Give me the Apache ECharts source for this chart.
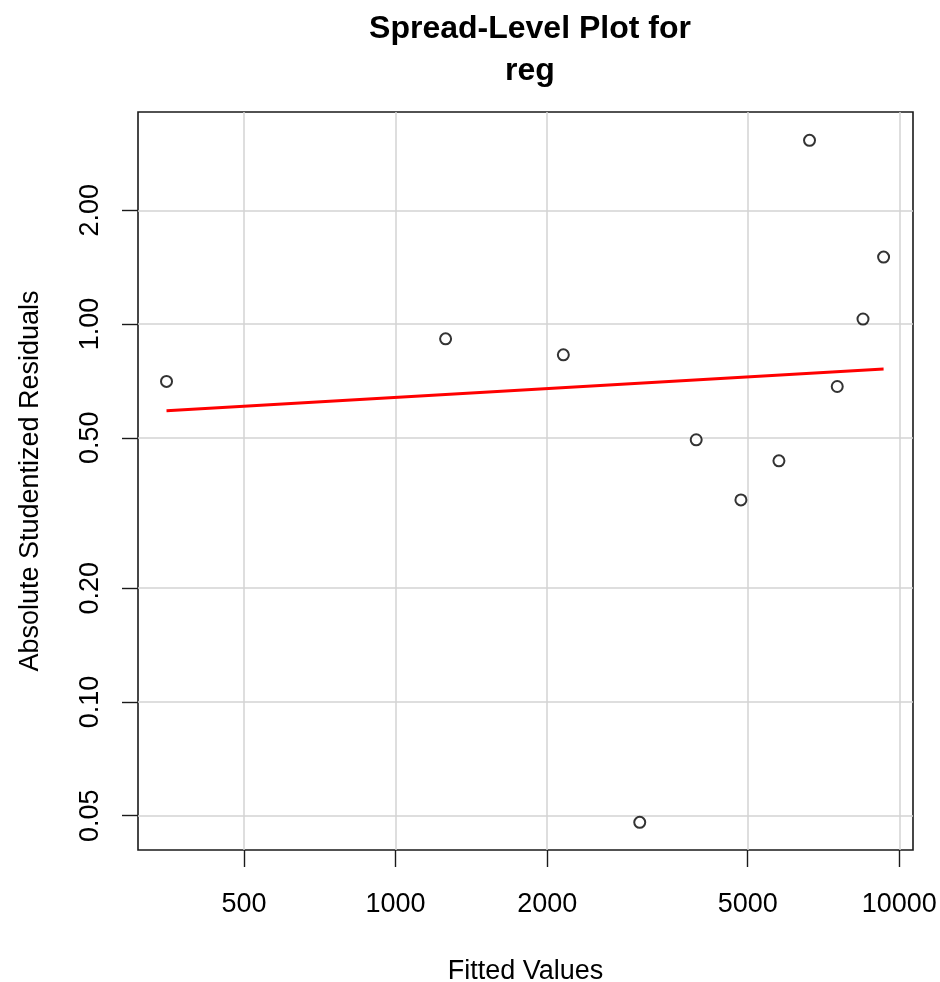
<!DOCTYPE html>
<html>
<head>
<meta charset="utf-8">
<script src="https://cdn.jsdelivr.net/npm/echarts@6/dist/echarts.min.js"></script>
<style>
  html, body { margin: 0; padding: 0; background: #fff; }
  #chart { width: 940px; height: 982px; }
</style>
</head>
<body>
<div id="chart"></div>
<script>
// Spread-level data: fitted values vs absolute studentized residuals (both on log scales)
const fittedValues = [351, 1257, 2153, 3053, 3952, 4848, 5768, 6634, 7530, 8471, 9307];
const absStudResiduals = [0.705, 0.914, 0.829, 0.048, 0.494, 0.3425, 0.4345, 3.063, 0.6835, 1.031, 1.504];

// Fitted robust line through the log-log points
const fitLineX = [351, 9307];
const fitLineY = [0.590, 0.760];

// Axis ticks and labels
const xTicks = [500, 1000, 2000, 5000, 10000];
const xTickLabels = ['500', '1000', '2000', '5000', '10000'];
const yTicks = [0.05, 0.1, 0.2, 0.5, 1, 2];
const yTickLabels = ['0.05', '0.10', '0.20', '0.50', '1.00', '2.00'];

// Axis extents (data units)
const xRange = [308.1, 10646];
const yRange = [0.04056, 3.641];

const lg = Math.log10;
const FONT = '"Liberation Sans", Arial, sans-serif';

function labelFor(ticks, labels) {
  return function (v) {
    for (let i = 0; i < ticks.length; i++) {
      if (Math.abs(lg(ticks[i]) - v) < 1e-6) return labels[i];
    }
    return '';
  };
}

const chart = echarts.init(document.getElementById('chart'), null, { renderer: 'canvas' });

chart.setOption({
  backgroundColor: '#ffffff',
  animation: false,
  title: {
    text: 'Spread-Level Plot for\nreg',
    left: 525,
    top: 3,
    textAlign: 'center',
    textStyle: {
      fontFamily: FONT,
      fontWeight: 'bold',
      fontSize: 32,
      lineHeight: 42,
      color: '#000'
    }
  },
  grid: {
    left: 138,
    top: 112,
    width: 775,
    height: 738,
    containLabel: false,
    outerBoundsMode: 'none',
    show: true,
    borderColor: '#1a1a1a',
    borderWidth: 1.6,
    backgroundColor: 'transparent'
  },
  xAxis: {
    type: 'value',
    min: lg(xRange[0]),
    max: lg(xRange[1]),
    name: 'Fitted Values',
    nameLocation: 'middle',
    nameGap: 108,
    nameTextStyle: { fontFamily: FONT, fontSize: 27, color: '#000', verticalAlign: 'top' },
    axisLine: { show: false, onZero: false },
    axisTick: {
      show: true, inside: false, length: 17,
      lineStyle: { color: '#1a1a1a', width: 1.4 },
      customValues: xTicks.map(lg)
    },
    axisLabel: {
      customValues: xTicks.map(lg),
      formatter: labelFor(xTicks, xTickLabels),
      margin: 41,
      fontFamily: FONT, fontSize: 27, color: '#000'
    },
    splitLine: { show: true, lineStyle: { color: '#d3d3d3', width: 1.5 } }
  },
  yAxis: {
    type: 'value',
    min: lg(yRange[0]),
    max: lg(yRange[1]),
    name: 'Absolute Studentized Residuals',
    nameLocation: 'middle',
    nameRotate: 90,
    nameGap: 94,
    nameTextStyle: { fontFamily: FONT, fontSize: 27, color: '#000' },
    axisLine: { show: false, onZero: false },
    axisTick: {
      show: true, inside: false, length: 16,
      lineStyle: { color: '#1a1a1a', width: 1.4 },
      customValues: yTicks.map(lg)
    },
    axisLabel: {
      customValues: yTicks.map(lg),
      formatter: labelFor(yTicks, yTickLabels),
      rotate: 90,
      margin: 34,
      fontFamily: FONT, fontSize: 27, color: '#000'
    },
    splitLine: { show: true, lineStyle: { color: '#d3d3d3', width: 1.5 } }
  },
  series: [
    {
      type: 'scatter',
      data: fittedValues.map((x, i) => [lg(x), lg(absStudResiduals[i])]),
      symbol: 'emptyCircle',
      symbolSize: 11,
      itemStyle: { color: '#000', borderColor: '#000', borderWidth: 1.4 },
      z: 3
    },
    {
      type: 'line',
      data: fitLineX.map((x, i) => [lg(x), lg(fitLineY[i])]),
      symbol: 'none',
      lineStyle: { color: '#ff0000', width: 3 },
      z: 2
    }
  ]
});
</script>
</body>
</html>
